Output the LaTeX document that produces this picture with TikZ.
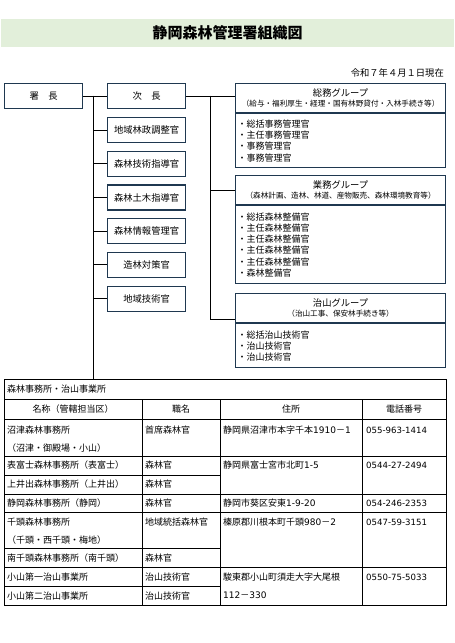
\documentclass[tikz,border=0pt]{standalone}
\usepackage{fontspec}
\setmainfont{Noto Sans CJK JP}
\newfontfamily\dejavu{DejaVu Sans}
\definecolor{framenavy}{RGB}{31,56,80}
\definecolor{bandgreen}{RGB}{226,239,218}
\usetikzlibrary{positioning}
\newcommand{\subtxt}[1]{{\fontsize{7.6}{9}\selectfont #1}}

\begin{document}
\begin{tikzpicture}[
    x=1pt, y=-1pt,
    node distance=7.5pt,
    band/.style={rectangle, fill=bandgreen, minimum width=453pt, minimum height=27.5pt, inner sep=0pt, font=\fontsize{15}{18}\selectfont\bfseries},
    post/.style={rectangle, draw=framenavy, line width=1.2pt, minimum width=78pt, minimum height=25pt, inner sep=0pt, anchor=north west, font=\fontsize{9.3}{11}\selectfont},
    grouphead/.style={rectangle, draw=framenavy, line width=1.2pt, minimum width=210pt, minimum height=29pt, inner sep=0pt, align=center, font=\fontsize{9.3}{10.5}\selectfont},
    groupbody/.style={rectangle, draw=framenavy, line width=1.2pt, text width=206pt, inner xsep=2pt, inner ysep=0pt, align=left, font=\fontsize{9}{11.2}\selectfont},
    link/.style={black, line width=0.9pt},
    rule/.style={black, line width=0.8pt},
    cell/.style={anchor=west, inner sep=0pt, font=\fontsize{9}{11}\selectfont},
    headcell/.style={inner sep=0pt, font=\fontsize{9}{11}\selectfont}
]
\useasboundingbox (0,0) rectangle (455,643);
% Title
\node[band] (title) at (227.5,33) {静岡森林管理署組織図};
\node[anchor=east, inner sep=0pt, font=\fontsize{9.3}{11}\selectfont] (date) at (444,73) {令和７年４月１日現在};
%
% Head posts
\node[post] (chief) at (4,83) {署　長};
\node[post] (deputy) at (107,83) {次　長};
\node[post] (o1) at (107,117) {地域林政調整官};
\node[post, below=of o1] (o2) {森林技術指導官};
\node[post, below=of o2] (o3) {森林土木指導官};
\node[post, below=of o3] (o4) {森林情報管理官};
\node[post, below=of o4] (o5) {造林対策官};
\node[post, below=of o5] (o6) {地域技術官};
%
% Groups
\node[grouphead, anchor=north west] (hd1) at (235,83) {総務グループ\\\subtxt{（給与・福利厚生・経理・国有林野貸付・入林手続き等）}};
\node[groupbody, below=0pt of hd1, minimum height=54pt] (bd1) {・総括事務管理官\\・主任事務管理官\\・事務管理官\\・事務管理官};
\node[grouphead, anchor=north west] (hd2) at (235,175) {業務グループ\\\subtxt{（森林計画、造林、林道、産物販売、森林環境教育等）}};
\node[groupbody, below=0pt of hd2, minimum height=78pt] (bd2) {・総括森林整備官\\・主任森林整備官\\・主任森林整備官\\・主任森林整備官\\・主任森林整備官\\・森林整備官};
\node[grouphead, anchor=north west] (hd3) at (235,293) {治山グループ\\\subtxt{（治山工事、保安林手続き等）}};
\node[groupbody, below=0pt of hd3, minimum height=44pt] (bd3) {・総括治山技術官\\・治山技術官\\・治山技術官};
%
% Connectors
\coordinate (spinetop) at (93,95.5);
\coordinate (tabletop) at (93,379);
\coordinate (gtop) at (210,95.5);
\coordinate (gbot) at (210,319);
\draw[link] (chief.east) -- (deputy.west);
\draw[link] (spinetop) -- (tabletop);
\foreach \n in {o1,o2,o3,o4,o5,o6}
    \draw[link] (\n.west -| spinetop) -- (\n.west);
\draw[link] (deputy.east) -- (deputy.east -| hd1.west);
\draw[link] (gtop) -- (gbot) -- (gbot -| hd3.west);
\draw[link] (hd2.west -| gtop) -- (hd2.west);
%
% Table
\draw[rule] (4,379) rectangle (446,605);
\foreach \y in {399,419,456,494,512,567}
    \draw[rule] (4,\y) -- (446,\y);
\foreach \y in {475,548,586}
    \draw[rule] (4,\y) -- (220,\y);
\foreach \x in {142,220,362}
    \draw[rule] (\x,399) -- (\x,605);
\node[cell] (caption) at (7,389) {森林事務所・治山事業所};
\node[headcell] (h1) at (73,409) {名称（管轄担当区）};
\node[headcell] (h2) at (181,409) {職名};
\node[headcell] (h3) at (291,409) {住所};
\node[headcell] (h4) at (404,409) {電話番号};
\foreach \y/\t [count=\i] in {430/沼津森林事務所, 448/（沼津・御殿場・小山）, 465/表富士森林事務所（表富士）, 484/上井出森林事務所（上井出）, 503/静岡森林事務所（静岡）, 522/千頭森林事務所, 540/（千頭・西千頭・梅地）, 558/南千頭森林事務所（南千頭）, 577/小山第一治山事業所, 596/小山第二治山事業所}
    \node[cell] (name\i) at (7,\y) {\t};
\foreach \y/\t [count=\i] in {430/首席森林官, 465/森林官, 484/森林官, 503/森林官, 522/地域統括森林官, 558/森林官, 577/治山技術官, 596/治山技術官}
    \node[cell] (job\i) at (145,\y) {\t};
\foreach \y/\t [count=\i] in {430/静岡県沼津市本字千本{\dejavu 1910}－{\dejavu 1}, 465/静岡県富士宮市北町{\dejavu 1-5}, 503/静岡市葵区安東{\dejavu 1-9-20}, 522/榛原郡川根本町千頭{\dejavu 980}－{\dejavu 2}, 577/駿東郡小山町須走大字大尾根, 595/{\dejavu 112}－{\dejavu 330}}
    \node[cell] (addr\i) at (223,\y) {\t};
\foreach \y/\t [count=\i] in {430/055-963-1414, 465/0544-27-2494, 503/054-246-2353, 522/0547-59-3151, 577/0550-75-5033}
    \node[cell, font=\fontsize{8.6}{11}\dejavu] (tel\i) at (366,\y) {\t};
\end{tikzpicture}
\end{document}
